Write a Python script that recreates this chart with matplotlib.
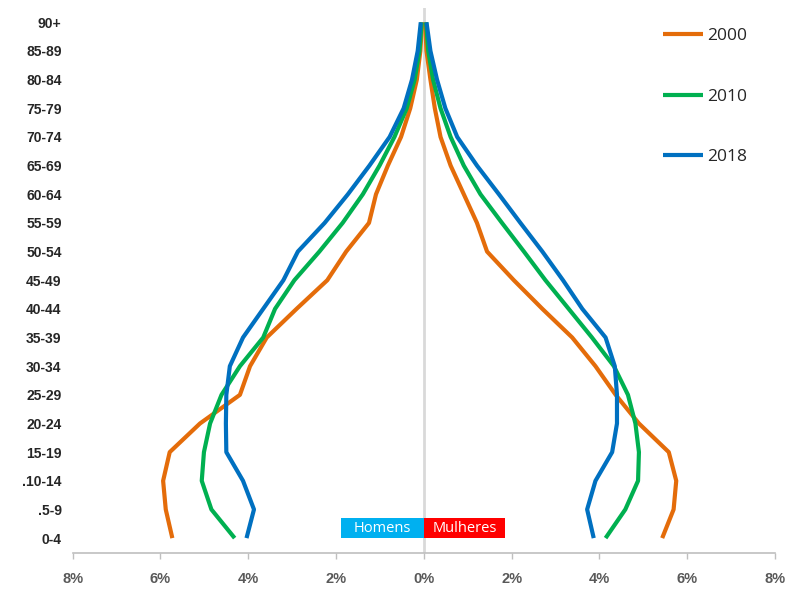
import matplotlib
matplotlib.use("Agg")
import matplotlib.pyplot as plt
from matplotlib.patches import Rectangle
from matplotlib.ticker import FixedLocator, FuncFormatter

age_groups = ['0-4', '.5-9', '.10-14', '15-19', '20-24', '25-29', '30-34', '35-39',
              '40-44', '45-49', '50-54', '55-59', '60-64', '65-69', '70-74',
              '75-79', '80-84', '85-89', '90+']

years = ['2000', '2010', '2018']
colors = ['#E46C0A', '#00B050', '#0070C0']

homens_2000 = [5.73, 5.88, 5.94, 5.79, 5.10, 4.19, 3.96, 3.58, 2.90, 2.20,
               1.77, 1.25, 1.09, 0.82, 0.52, 0.31, 0.16, 0.08, 0.04]
homens_2010 = [4.31, 4.84, 5.06, 5.01, 4.87, 4.61, 4.19, 3.66, 3.39, 2.95,
               2.38, 1.85, 1.39, 1.01, 0.67, 0.39, 0.21, 0.10, 0.05]
homens_2018 = [4.04, 3.87, 4.12, 4.50, 4.51, 4.50, 4.42, 4.12, 3.66, 3.20,
               2.87, 2.26, 1.73, 1.24, 0.78, 0.46, 0.27, 0.14, 0.07]

mulheres_2000 = [5.43, 5.69, 5.75, 5.58, 4.90, 4.37, 3.91, 3.38, 2.70, 2.05,
                 1.44, 1.21, 0.91, 0.61, 0.38, 0.25, 0.15, 0.06, 0.03]
mulheres_2010 = [4.14, 4.59, 4.88, 4.90, 4.82, 4.65, 4.33, 3.83, 3.30, 2.77,
                 2.28, 1.78, 1.29, 0.91, 0.61, 0.38, 0.21, 0.10, 0.05]
mulheres_2018 = [3.87, 3.72, 3.91, 4.29, 4.40, 4.40, 4.35, 4.14, 3.61, 3.17,
                 2.70, 2.20, 1.71, 1.21, 0.76, 0.49, 0.30, 0.15, 0.06]

x_ticks = [-8, -6, -4, -2, 0, 2, 4, 6, 8]

homens = [homens_2000, homens_2010, homens_2018]
mulheres = [mulheres_2000, mulheres_2010, mulheres_2018]

fig = plt.figure(figsize=(7.89, 5.89), dpi=100)
ax = fig.add_axes([72.7 / 789, 1 - 553 / 589, (775 - 72.7) / 789, (553 - 8) / 589])

ypos = list(range(len(age_groups)))

ax.axvline(0, color='#D9D9D9', lw=2, zorder=1)

handles = []
for yr, col, h, m in zip(years, colors, homens, mulheres):
    ln, = ax.plot([-v for v in h], ypos, color=col, lw=3, solid_joinstyle='round',
                  solid_capstyle='butt', zorder=3, label=yr)
    ax.plot(m, ypos, color=col, lw=3, solid_joinstyle='round',
            solid_capstyle='butt', zorder=3)
    handles.append(ln)

ax.set_xlim(-8, 8)
ax.set_ylim(-0.52, 18.5)

ax.xaxis.set_major_locator(FixedLocator(x_ticks))
ax.xaxis.set_major_formatter(FuncFormatter(lambda v, p: f"{abs(int(round(v)))}%"))
ax.set_yticks(ypos)
ax.set_yticklabels(age_groups)

for s in ['top', 'right', 'left']:
    ax.spines[s].set_visible(False)
ax.spines['bottom'].set_color('#BFBFBF')
ax.spines['bottom'].set_linewidth(1.2)

ax.tick_params(axis='x', length=4, width=1, color='#BFBFBF', pad=10,
               labelsize=10.5, labelcolor='#595959')
ax.tick_params(axis='y', length=0, pad=8, labelsize=10, labelcolor='#262626')
for lab in ax.get_xticklabels():
    lab.set_fontweight('bold')
    lab.set_family(['Liberation Sans', 'DejaVu Sans'])
for lab in ax.get_yticklabels():
    lab.set_fontweight('bold')
    lab.set_family(['Liberation Sans Narrow', 'Liberation Sans', 'DejaVu Sans'])

# Homens / Mulheres boxes
ax.add_patch(Rectangle((-1.88, 0.0), 1.88, 0.70, facecolor='#00B0F0', edgecolor='none', zorder=4))
ax.add_patch(Rectangle((0.0, 0.0), 1.86, 0.70, facecolor='#FF0000', edgecolor='none', zorder=4))
ax.text(-0.94, 0.35, 'Homens', color='white', ha='center', va='center', fontsize=10.5,
        family=['Open Sans', 'DejaVu Sans'], zorder=5)
ax.text(0.93, 0.35, 'Mulheres', color='white', ha='center', va='center', fontsize=10.5,
        family=['Open Sans', 'DejaVu Sans'], zorder=5)

leg = fig.legend(handles=handles, loc='upper left',
                 bbox_to_anchor=(663 / 789, 1 - 28 / 589),
                 frameon=False, handlelength=2.3, handletextpad=0.25,
                 labelspacing=2.55, borderpad=0, borderaxespad=0,
                 prop={'family': ['Open Sans', 'DejaVu Sans'], 'size': 12.5})
for t in leg.get_texts():
    t.set_color('#262626')

fig.savefig('out.png', dpi=100)
